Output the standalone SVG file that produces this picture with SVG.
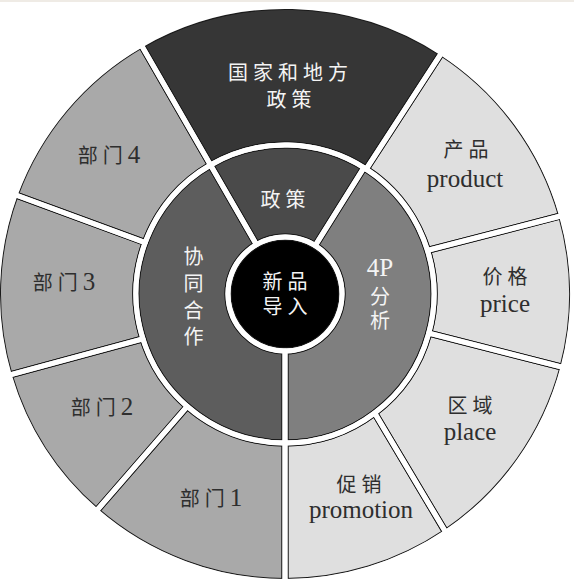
<svg xmlns="http://www.w3.org/2000/svg" width="574" height="583" viewBox="0 0 574 583">
<defs>
<style>
.zh{font-family:"Liberation Serif","Noto Sans CJK SC",serif;font-size:20px;letter-spacing:5px;text-anchor:middle}
.v{letter-spacing:0}
.en{font-family:"Liberation Serif","Noto Sans CJK SC",serif;font-size:25px;letter-spacing:0;text-anchor:middle}
.lt{fill:#f4f4f4}
.dk{fill:#2e2e2e}
.edge-dark{fill:none;stroke:#1a1a1a;stroke-width:7;stroke-linejoin:round}
.edge-white{fill:none;stroke:#ffffff;stroke-width:5;stroke-linejoin:round}
</style>
<clipPath id="rim"><circle cx="285" cy="294" r="285.3"/></clipPath>
</defs>
<rect x="0" y="0" width="574" height="583" fill="#ffffff"/>
<rect x="0" y="0" width="574" height="2" fill="#efebe5"/>

<!-- outer ring -->
<g id="n-guojia" fill="#363636">
<path id="p-guojia" d="M141.25,45.02 A287.5,287.5 0 0 1 441.57,52.87 L366.15,169.03 A149,149 0 0 0 210.5,164.97 Z"/>
<text class="zh lt" x="290.5" y="80">国家和地方</text>
<text class="zh lt" x="291.5" y="107">政策</text>
</g>
<g id="n-product" fill="#dfdfdf">
<path id="p-product" d="M441.57,52.87 A287.5,287.5 0 0 1 561.63,215.71 L427.49,250.43 A149,149 0 0 0 366.15,169.03 Z"/>
<text class="zh dk" x="468.5" y="157">产品</text>
<text class="en dk" x="465" y="187">product</text>
</g>
<g id="n-price" fill="#dfdfdf">
<path id="p-price" d="M561.63,215.71 A287.5,287.5 0 0 1 562.96,367.43 L428.79,333.07 A149,149 0 0 0 427.49,250.43 Z"/>
<text class="zh dk" x="507.5" y="283.5">价格</text>
<text class="en dk" x="505" y="312">price</text>
</g>
<g id="n-place" fill="#dfdfdf">
<path id="p-place" d="M562.96,367.43 A287.5,287.5 0 0 1 445.77,532.34 L374.67,412.99 A149,149 0 0 0 428.79,333.07 Z"/>
<text class="zh dk" x="472.5" y="412.5">区域</text>
<text class="en dk" x="470" y="440">place</text>
</g>
<g id="n-promotion" fill="#dfdfdf">
<path id="p-promotion" d="M445.77,532.34 A287.5,287.5 0 0 1 285,581.5 L285,443 A149,149 0 0 0 374.67,412.99 Z"/>
<text class="zh dk" x="361.5" y="491.5">促销</text>
<text class="en dk" x="361" y="518">promotion</text>
</g>
<g id="n-dept1" fill="#a9a9a9">
<path id="p-dept1" d="M285,581.5 A287.5,287.5 0 0 1 96.37,510.98 L187.24,406.45 A149,149 0 0 0 285,443 Z"/>
<text class="zh dk" x="211" y="505.5">部门<tspan class="en">1</tspan></text>
</g>
<g id="n-dept2" fill="#a9a9a9">
<path id="p-dept2" d="M96.37,510.98 A287.5,287.5 0 0 1 9.20,375.16 L142.90,338.80 A149,149 0 0 0 187.24,406.45 Z"/>
<text class="zh dk" x="102" y="414.5">部门<tspan class="en">2</tspan></text>
</g>
<g id="n-dept3" fill="#a9a9a9">
<path id="p-dept3" d="M9.20,375.16 A287.5,287.5 0 0 1 15.18,194.73 L145.16,242.55 A149,149 0 0 0 142.90,338.80 Z"/>
<text class="zh dk" x="64" y="289.5">部门<tspan class="en">3</tspan></text>
</g>
<g id="n-dept4" fill="#a9a9a9">
<path id="p-dept4" d="M15.18,194.73 A287.5,287.5 0 0 1 141.25,45.02 L210.5,164.97 A149,149 0 0 0 145.16,242.55 Z"/>
<text class="zh dk" x="109" y="162.5">部门<tspan class="en">4</tspan></text>
</g>

<!-- middle ring -->
<g id="n-policy" fill="#4a4a4a">
<path id="p-policy" d="M210.5,164.97 A149,149 0 0 1 363.96,167.65 L315.20,245.66 A57,57 0 0 0 256.5,244.64 Z"/>
<text class="zh lt" x="285.5" y="206.5">政策</text>
</g>
<g id="n-4p" fill="#7f7f7f">
<path id="p-4p" d="M363.96,167.65 A149,149 0 0 1 285,443 L285,351 A57,57 0 0 0 315.20,245.66 Z"/>
<text class="en lt" x="380" y="276">4P</text>
<text class="zh v lt" x="380" y="303.5">分</text>
<text class="zh v lt" x="380" y="327.5">析</text>
</g>
<g id="n-coop" fill="#5d5d5d">
<path id="p-coop" d="M285,443 A149,149 0 0 1 210.5,164.97 L256.5,244.64 A57,57 0 0 0 285,351 Z"/>
<text class="zh v lt" x="193.5" y="263.5">协</text>
<text class="zh v lt" x="193.5" y="290.5">同</text>
<text class="zh v lt" x="193.5" y="317.5">合</text>
<text class="zh v lt" x="193.5" y="343.5">作</text>
</g>

<!-- centre -->
<g id="n-core" fill="#000000">
<circle id="p-core" cx="285" cy="294" r="57"/>
<text class="zh lt" x="287.5" y="288.5">新品</text>
<text class="zh lt" x="287.5" y="313.5">导入</text>
</g>

<!-- separators (white gaps with thin dark edges) -->
<g id="connectors">
<g class="edge-dark" clip-path="url(#rim)">
<use href="#p-guojia"/><use href="#p-product"/><use href="#p-price"/><use href="#p-place"/><use href="#p-promotion"/>
<use href="#p-dept1"/><use href="#p-dept2"/><use href="#p-dept3"/><use href="#p-dept4"/>
<use href="#p-policy"/><use href="#p-4p"/><use href="#p-coop"/><use href="#p-core"/>
</g>
<g class="edge-white">
<use href="#p-guojia"/><use href="#p-product"/><use href="#p-price"/><use href="#p-place"/><use href="#p-promotion"/>
<use href="#p-dept1"/><use href="#p-dept2"/><use href="#p-dept3"/><use href="#p-dept4"/>
<use href="#p-policy"/><use href="#p-4p"/><use href="#p-coop"/><use href="#p-core"/>
</g>
</g>
</svg>
